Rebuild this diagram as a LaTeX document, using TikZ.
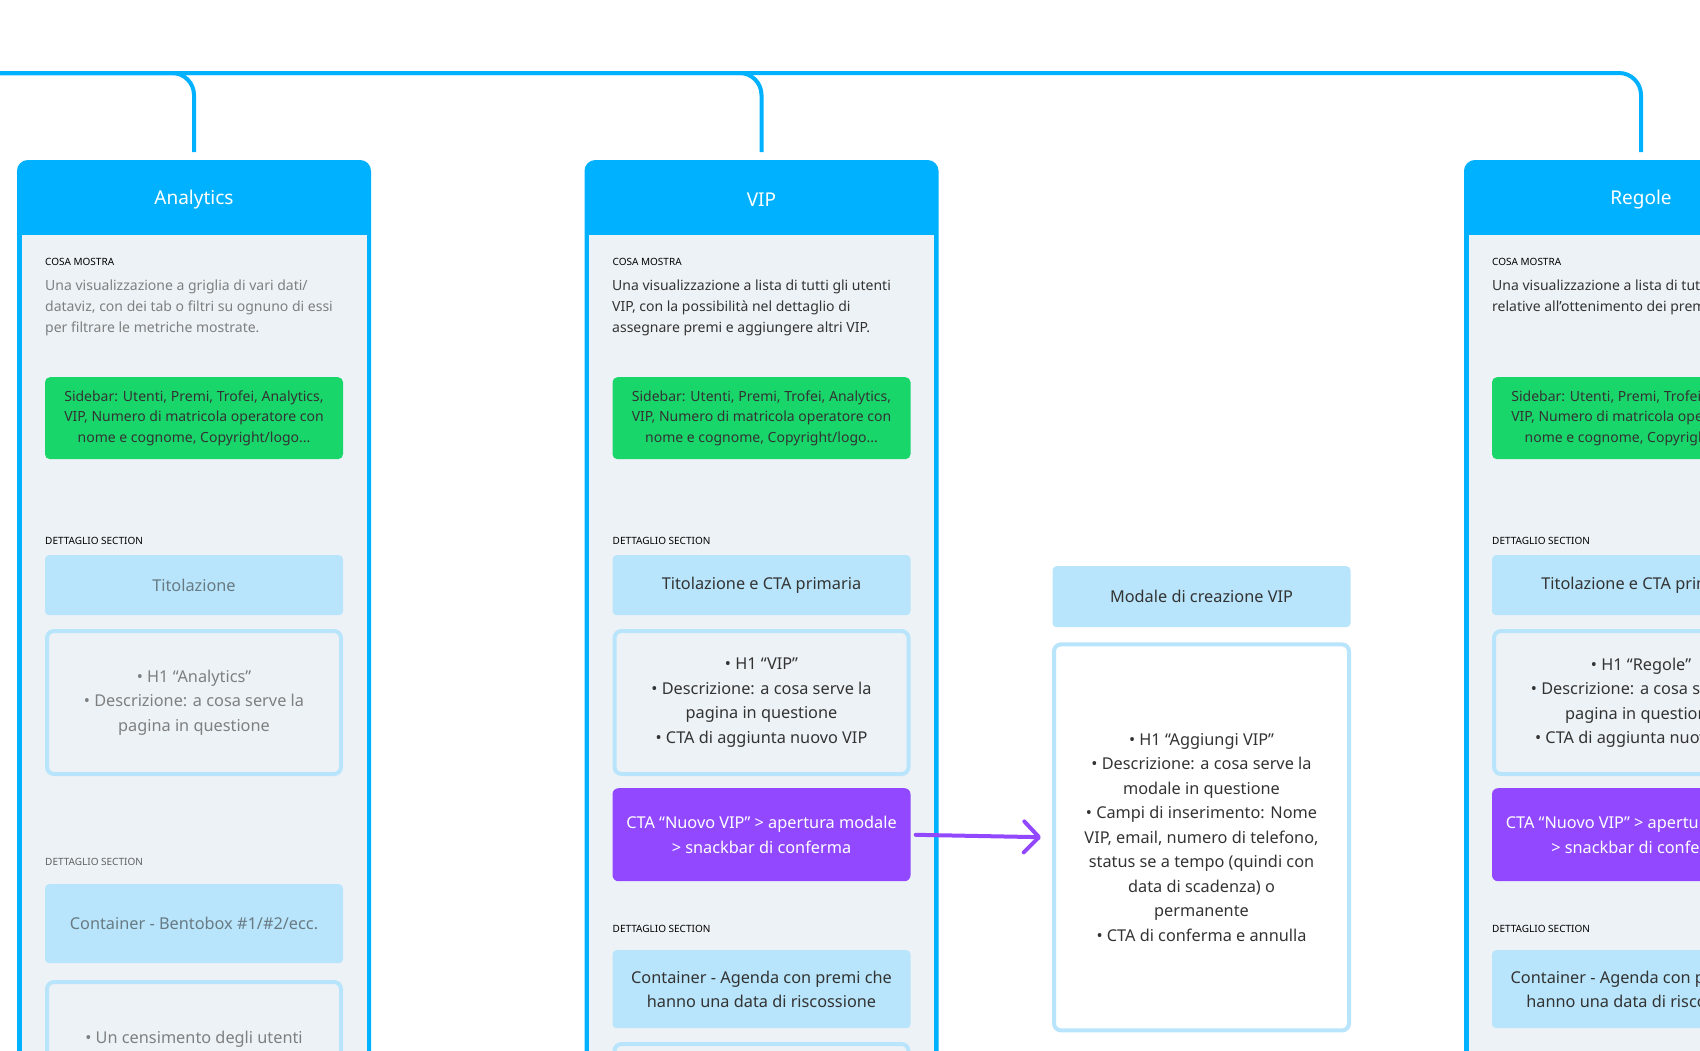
\documentclass[tikz,border=0pt]{standalone}
\usepackage{fontspec}
\setmainfont{Noto Sans}
\usepackage{xcolor}
\usepackage{tikz}
\usetikzlibrary{arrows.meta}
\usetikzlibrary{positioning}

\definecolor{skyline}{HTML}{00B1FF}
\definecolor{cardgray}{HTML}{EDF2F6}
\definecolor{sidegreen}{HTML}{19D66B}
\definecolor{paleblue}{HTML}{B8E5FB}
\definecolor{ctapurple}{HTML}{9148FF}
\definecolor{inkgray}{HTML}{333333}

\newcommand{\boxfont}{\fontsize{16.3}{24.5}\selectfont}
\newcommand{\blurbfont}{\fontsize{14}{20.6}\selectfont}
\newcommand{\capfont}{\fontsize{10}{12}\selectfont\bfseries}
\newcommand{\headfont}{\fontsize{19}{24}\selectfont}

\tikzset{
	card/.style={fill=skyline, draw=skyline, line width=4pt, rounded corners=9pt, minimum width=350pt, minimum height=1000pt, anchor=north},
	cardbody/.style={fill=cardgray, minimum width=345pt, minimum height=900pt, anchor=north},
	headtext/.style={font=\headfont, text=white},
	caption/.style={font=\capfont, text=black, anchor=west},
	blurb/.style={font=\blurbfont, align=left, anchor=north west},
	sidebox/.style={fill=sidegreen, rounded corners=5pt, minimum width=298pt, minimum height=82pt, align=center, font=\blurbfont, text=black!80, anchor=north},
	titlebox/.style={fill=paleblue, rounded corners=4pt, minimum width=298pt, minimum height=60pt, align=center, anchor=north},
	listbox/.style={draw=paleblue, line width=4pt, rounded corners=7pt, minimum width=294pt, align=center, anchor=north},
	ctabox/.style={fill=ctapurple, rounded corners=6pt, minimum width=298pt, minimum height=93pt, align=center, text=white, anchor=north},
	wire/.style={draw=skyline, line width=4pt, rounded corners=22pt, shorten >=8pt},
	flow/.style={draw=ctapurple, line width=4pt, line cap=round, -{Straight Barb[length=15pt, width=31pt, round]}, shorten <=5pt, shorten >=11pt}
}

\begin{document}
\begin{tikzpicture}[x=1pt, y=-1pt, every node/.style={inner sep=0pt, text=inkgray, font=\boxfont}]
	\useasboundingbox (0,0) rectangle (1700,1050);
	\clip (0,0) rectangle (1700,1050);

	\foreach \cx/\colName/\colTitle in {194/ana/Analytics, 761.5/vip/VIP, 1641/reg/Regole}
	{
		\node[card] (\colName Card) at (\cx,160) {};
		\node[cardbody] (\colName Body) at (\cx,235) {};
		\node[headtext] (\colName Head) at (\cx,200) {\colTitle};
		\node[caption] (\colName Cap) at (\cx-149,262) {COSA MOSTRA};
		\node[sidebox] (\colName Side) at (\cx,377) {Sidebar: Utenti, Premi, Trofei, Analytics,\\VIP, Numero di matricola operatore con\\nome e cognome, Copyright/logo...};
		\node[caption] (\colName Sec) at (\cx-149,541) {DETTAGLIO SECTION};
	}

	\coordinate (trunk) at (0,73);
	\foreach \colName in {ana, vip, reg}
	{
		\draw[wire] (trunk) -| (\colName Card.north);
	}

	\begin{scope}[every node/.append style={text opacity=0.6}]
		\node[blurb] (anaText) at (45,280) {Una visualizzazione a griglia di vari dati/\\dataviz, con dei tab o filtri su ognuno di essi\\per filtrare le metriche mostrate.};
		\node[titlebox] (anaTitBox) at (194,555) {Titolazione};
		\node[listbox, minimum height=143pt] (anaList) at (194,629) {• H1 “Analytics”\\• Descrizione: a cosa serve la\\pagina in questione};
		\node[caption] (anaSecB) at (45,862) {DETTAGLIO SECTION};
		\node[titlebox, minimum height=79pt] (anaBento) at (194,884) {Container - Bentobox \#1/\#2/ecc.};
		\node[listbox, minimum height=120pt] (anaNext) at (194,980) {};
		\node (anaNextText) at (194,1039) {• Un censimento degli utenti};
	\end{scope}

	\node[blurb] (vipText) at (612,280) {Una visualizzazione a lista di tutti gli utenti\\VIP, con la possibilità nel dettaglio di\\assegnare premi e aggiungere altri VIP.};
	\node[blurb] (regText) at (1492,280) {Una visualizzazione a lista di tutte le regole\\relative all’ottenimento dei premi.};

	\foreach \cx/\colName/\hOne in {761.5/vip/VIP, 1641/reg/Regole}
	{
		\node[titlebox] (\colName TitBox) at (\cx,555) {Titolazione e CTA primaria};
		\node[listbox, minimum height=143pt] (\colName List) at (\cx,629) {• H1 “\hOne”\\• Descrizione: a cosa serve la\\pagina in questione\\• CTA di aggiunta nuovo VIP};
		\node[ctabox] (\colName Cta) at (\cx,788) {CTA “Nuovo VIP” > apertura modale\\> snackbar di conferma};
		\node[caption] (\colName SecB) at (\cx-149,929) {DETTAGLIO SECTION};
		\node[titlebox, minimum height=78pt] (\colName Agenda) at (\cx,950) {Container - Agenda con premi che\\hanno una data di riscossione};
	}
	\node[listbox, minimum height=100pt] (vipNext) at (761.5,1042) {};

	\node[titlebox, minimum height=61pt] (modTitle) at (1201.5,566) {Modale di creazione VIP};
	\node[listbox, minimum height=386pt, minimum width=295pt, below=15pt of modTitle] (modList) {• H1 “Aggiungi VIP”\\• Descrizione: a cosa serve la\\modale in questione\\• Campi di inserimento: Nome\\VIP, email, numero di telefono,\\status se a tempo (quindi con\\data di scadenza) o\\permanente\\• CTA di conferma e annulla};

	\draw[flow] (vipCta.east) -- (modList.west);
\end{tikzpicture}
\end{document}
